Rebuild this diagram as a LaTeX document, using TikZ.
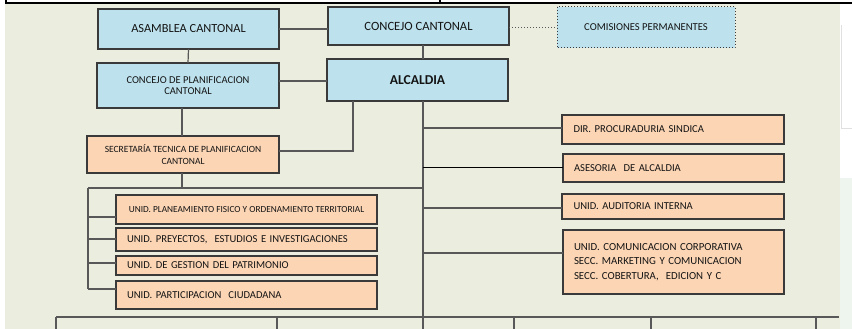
\documentclass[tikz,border=0pt]{standalone}
\usepackage{fontspec}
\setmainfont{Carlito}
\begin{document}
\begin{tikzpicture}[x=1pt,y=-1pt,
  box/.style={draw=boxline, line width=1.1pt, inner sep=0pt, outer sep=0pt, text=txt},
  bluebox/.style={box, fill=bluefill},
  orbox/.style={box, fill=orfill},
  link/.style={draw=linkc, line width=1.2pt},
  tl/.style={font=\fontsize{10.6}{12}\selectfont},
  ]
\definecolor{bg}{HTML}{EBEEDE}
\definecolor{bluefill}{HTML}{BDE2EE}
\definecolor{orfill}{HTML}{FCD5B4}
\definecolor{boxline}{HTML}{3A3A3A}
\definecolor{linkc}{HTML}{585858}
\definecolor{txt}{HTML}{141414}
\definecolor{strip}{HTML}{EEF5EF}
\useasboundingbox (0,0) rectangle (852,329);
% background
\fill[white] (0,0) rectangle (852,329);
\fill[bg] (5,3) rectangle (840,329);
\fill[strip] (840,178) rectangle (852,329);
\draw[draw=black!12, line width=1pt] (841,25) -- (841,128) -- (852,128);
% top frame
\draw[black, line width=1.6pt] (5,3.2) -- (852,3.2);
\draw[black, line width=2pt] (5.5,0) -- (5.5,3);
\draw[black, line width=1.2pt] (440,0) -- (440,3);

% top level boxes
\node[bluebox, minimum width=181pt, minimum height=40pt, font=\fontsize{12.4}{14}\selectfont] (asam) at (188.5,29) {ASAMBLEA CANTONAL};
\node[bluebox, minimum width=181pt, minimum height=38pt, font=\fontsize{12.6}{14}\selectfont] (conc) at (418.5,26) {CONCEJO CANTONAL};
\node[bluebox, draw=none, minimum width=178pt, minimum height=41pt, font=\fontsize{10.6}{12}\selectfont] (comi) at (646,27.5) {COMISIONES PERMANENTES};
\draw[boxline, line width=1pt, dotted] (comi.north west) rectangle (comi.south east);
\node[bluebox, minimum width=182pt, minimum height=45pt, align=center, font=\fontsize{10.5}{11.7}\selectfont] (plani) at (188,85.5) {CONCEJO DE PLANIFICACION\\CANTONAL};
\node[bluebox, minimum width=181pt, minimum height=42pt, font=\fontsize{13.6}{15}\selectfont\bfseries] (alc) at (417.5,80) {ALCALDIA};

\node[orbox, minimum width=192pt, minimum height=37pt, align=center, font=\fontsize{9.5}{12}\selectfont] (secr) at (183,154.5) {SECRETARÍA TECNICA DE PLANIFICACION\\CANTONAL};

% left unit boxes
\node[orbox, minimum width=261pt, minimum height=29pt, font=\fontsize{9.3}{11}\selectfont] (plan) at (246.5,209.5) {UNID. PLANEAMIENTO FISICO Y ORDENAMIENTO TERRITORIAL};
\node[orbox, minimum width=261pt, minimum height=23pt, text width=239pt, tl] (proy) at (246.5,239.5) {UNID. PREYECTOS,\ \ ESTUDIOS E INVESTIGACIONES};
\node[orbox, minimum width=261pt, minimum height=19pt, text width=239pt, tl] (gest) at (246.5,265.5) {UNID. DE GESTION DEL PATRIMONIO};
\node[orbox, minimum width=261pt, minimum height=28pt, text width=239pt, tl] (part) at (246.5,295) {UNID. PARTICIPACION\ \ CIUDADANA};

% right boxes
\node[orbox, minimum width=222pt, minimum height=29pt, text width=199pt, tl] (dir) at (673,129.5) {DIR. PROCURADURIA SINDICA};
\node[orbox, minimum width=221pt, minimum height=28pt, text width=199pt, tl] (ases) at (673.5,168) {ASESORIA\ \ DE ALCALDIA};
\node[orbox, minimum width=222pt, minimum height=25pt, text width=199pt, tl] (aud) at (673,206.5) {UNID. AUDITORIA INTERNA};
\node[orbox, minimum width=221pt, minimum height=64pt, text width=199pt, align=left, font=\fontsize{10.8}{14.5}\selectfont] (com) at (673.5,262) {UNID. COMUNICACION CORPORATIVA\\SECC. MARKETING Y COMUNICACION\\SECC. COBERTURA,\ \ EDICION Y C};

% junction coordinates
\coordinate (trunkbot) at (423,329);
\coordinate (jsec) at (353,151);
\coordinate (jleft) at (182,188);
\coordinate (lvtop) at (88,188);
\coordinate (jtr) at (423,188);
\coordinate (lvbot) at (88,289);
\coordinate (bl) at (56,317);
\coordinate (br) at (839,317);

% connectors top
\draw[link] (asam.east |- 0,29) -- (conc.west |- 0,29);
\draw[linkc, line width=1pt, dotted] (conc.east |- 0,28) -- (comi.west |- 0,28);
\draw[link] (asam.south) -- (plani.north);
\draw[link] (plani.east |- 0,81) -- (alc.west |- 0,81);
\draw[link] (conc.south -| 423,0) -- (alc.north -| 423,0);
\draw[link] (alc.south -| 423,0) -- (trunkbot);
\draw[link] (alc.south -| jsec) -- (jsec) -- (secr.east |- jsec);
\draw[link] (plani.south -| 182,0) -- (secr.north -| 182,0);
\draw[link] (secr.south -| jleft) -- (jleft);
\draw[link] (lvtop) -- (jtr);
\draw[link] (lvtop) -- (lvbot);
\draw[link] (88,217) -- (plan.west |- 0,217);
\draw[link] (88,239) -- (proy.west |- 0,239);
\draw[link] (88,263) -- (gest.west |- 0,263);
\draw[link] (lvbot) -- (part.west |- lvbot);
% right branches
\draw[link] (423,128) -- (dir.west |- 0,128);
\draw[black, line width=0.9pt] (423,167) -- (ases.west |- 0,167);
\draw[link] (423,208) -- (aud.west |- 0,208);
\draw[link] (423,253) -- (com.west |- 0,253);
% bottom
\draw[link] (bl) -- (br);
\foreach \x in {56,277,514,651,816} \draw[link] (\x,317) -- (\x,329);
\end{tikzpicture}
\end{document}
